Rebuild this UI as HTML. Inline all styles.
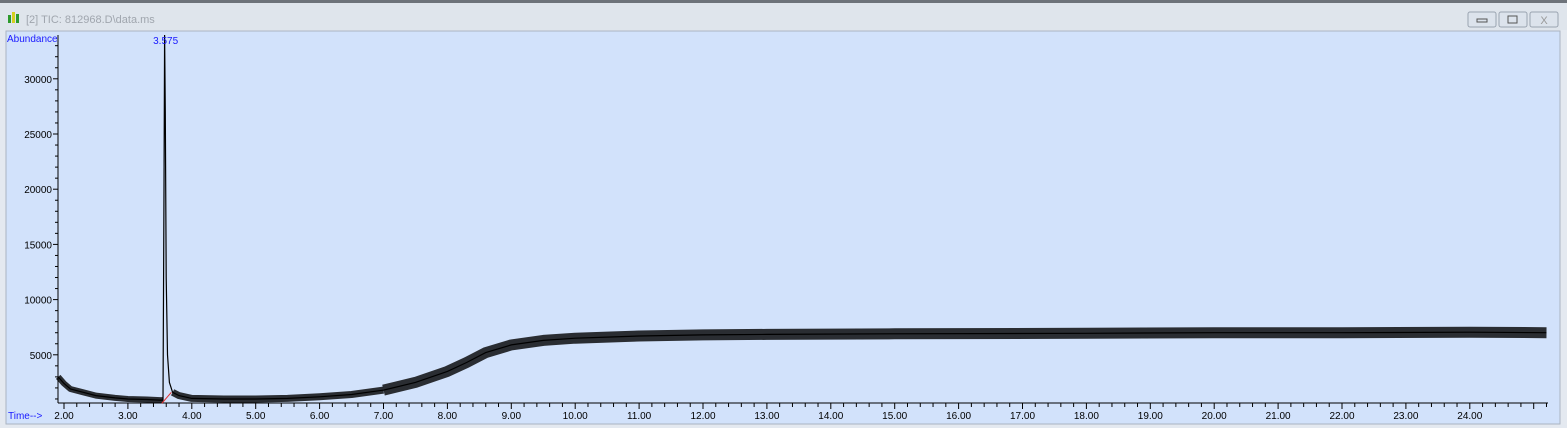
<!DOCTYPE html>
<html><head><meta charset="utf-8"><style>
html,body{margin:0;padding:0;width:1567px;height:428px;overflow:hidden;background:#e4e9f0;font-family:"Liberation Sans",sans-serif}
</style></head><body>
<svg id="svg" width="1567" height="428" xmlns="http://www.w3.org/2000/svg">
<rect x="0" y="0" width="1567" height="428" fill="#e4e9f0"/>
<rect x="0" y="0" width="1567" height="3" fill="#6d737a"/>
<rect x="0" y="3" width="1567" height="27" fill="#dfe5ec"/>
<g><rect x="8" y="15" width="3" height="8" fill="#2c9a2c"/><rect x="12" y="12" width="3" height="11" fill="#d4d020"/><rect x="16" y="14" width="3" height="9" fill="#2c9a2c"/></g>
<text x="26" y="23" font-size="11" fill="#a0a6ae">[2] TIC: 812968.D\data.ms</text>
<g><rect x="1468" y="12" width="28" height="15" rx="2" fill="#dce3ec" stroke="#9aa4b0"/><rect x="1477" y="19" width="10" height="3" fill="none" stroke="#555"/></g>
<g><rect x="1499" y="12" width="28" height="15" rx="2" fill="#dce3ec" stroke="#9aa4b0"/><rect x="1508" y="16" width="9" height="7" fill="none" stroke="#555"/></g>
<g><rect x="1530" y="12" width="28" height="15" rx="2" fill="#dce3ec" stroke="#9aa4b0"/><text x="1544" y="24" font-size="11" text-anchor="middle" fill="#999">X</text></g>
<rect x="6" y="31" width="1554" height="393" fill="#d2e2fb" stroke="#aab4c2"/>
<text x="7" y="42" font-size="10" fill="#1a1aff">Abundance</text>
<text x="8" y="419" font-size="10" fill="#1a1aff">Time--&gt;</text>
<g id="axes"></g>
<g id="series"></g>
</svg>
<script>
const xTicks=[2,3,4,5,6,7,8,9,10,11,12,13,14,15,16,17,18,19,20,21,22,23,24];
const yTicks=[5000,10000,15000,20000,25000,30000];
const times=[1.91,2.0,2.1,2.3,2.5,2.8,3.0,3.3,3.5,3.55,3.565,3.575,3.585,3.6,3.62,3.65,3.7,3.8,4.0,4.5,5.0,5.5,6.0,6.5,7.0,7.5,8.0,8.3,8.6,9.0,9.5,10.0,10.5,11,12,13,15,18,20,22,24,25.2];
const abundance=[3000,2400,1900,1600,1300,1100,1000,950,900,900,20000,34000,27000,12000,5000,2500,1600,1300,1050,1000,1000,1050,1200,1400,1800,2500,3500,4300,5200,5900,6300,6500,6600,6700,6800,6850,6900,6950,7000,7000,7050,7000];
const peakLabel="3.575";
const NS="http://www.w3.org/2000/svg";
const X0=58,Y0=403,YT=35,XR=1548;
const xs=t=>64+(t-2)*63.9;
const ys=v=>410-v*55.2/5000;
function mk(tag,attrs,parent){const e=document.createElementNS(NS,tag);for(const k in attrs)e.setAttribute(k,attrs[k]);parent.appendChild(e);return e;}
const ax=document.getElementById('axes');
const yl=mk('line',{x1:X0,y1:YT,x2:X0,y2:Y0,stroke:'#000'},ax);


const xl=mk('line',{x1:X0,y1:Y0,x2:XR,y2:Y0,stroke:'#000'},ax);


for(let v=1000;v<=34000;v+=1000){const y=ys(v);if(y>Y0||y<YT)continue;const maj=v%5000===0;mk('line',{x1:maj?X0-5:X0-3,y1:y,x2:X0,y2:y,stroke:'#000'},ax);}
yTicks.forEach(v=>{const t=mk('text',{x:X0-6,y:ys(v)+4,'font-size':10,'text-anchor':'end',fill:'#000'},ax);t.textContent=v;

});
for(let t=1.8;t<=25.2;t+=0.2){const x=xs(t);if(x<X0||x>XR)continue;const maj=Math.abs(t-Math.round(t))<0.01;mk('line',{x1:x,y1:Y0,x2:x,y2:maj?Y0+6:Y0+4,stroke:'#000'},ax);}
xTicks.forEach(v=>{const t=mk('text',{x:xs(v),y:419,'font-size':10,'text-anchor':'middle',fill:'#000'},ax);t.textContent=v.toFixed(2);

});
const sg=document.getElementById('series');
function seg(lo,hi){let s='';times.forEach((t,i)=>{if(t<lo||t>hi)return;s+=(s?'L':'M')+xs(t).toFixed(1)+','+ys(abundance[i]).toFixed(1);});return s;}
const b=mk('path',{d:seg(7.0,30),fill:'none',stroke:'rgba(0,0,0,0.8)','stroke-width':11,'stroke-linejoin':'round'},sg);


const bm=mk('path',{d:seg(3.7,7.0),fill:'none',stroke:'rgba(0,0,0,0.8)','stroke-width':7,'stroke-linejoin':'round'},sg);


const bb=mk('path',{d:seg(0,3.55),fill:'none',stroke:'rgba(0,0,0,0.8)','stroke-width':6,'stroke-linejoin':'round'},sg);


let d='';times.forEach((t,i)=>{d+=(d?'L':'M')+xs(t).toFixed(1)+','+Math.max(YT,ys(abundance[i])).toFixed(1);});
const p=mk('path',{d:d,fill:'none',stroke:'#000','stroke-width':1.2},sg);


const bl=mk('line',{x1:xs(3.53),y1:ys(600),x2:xs(3.68),y2:ys(1600),stroke:'#e03030'},sg);


const pl=mk('text',{x:xs(3.575)+1,y:44,'font-size':10,'text-anchor':'middle',fill:'#1a1aff'},sg);pl.textContent=peakLabel;


</script>
</body></html>
